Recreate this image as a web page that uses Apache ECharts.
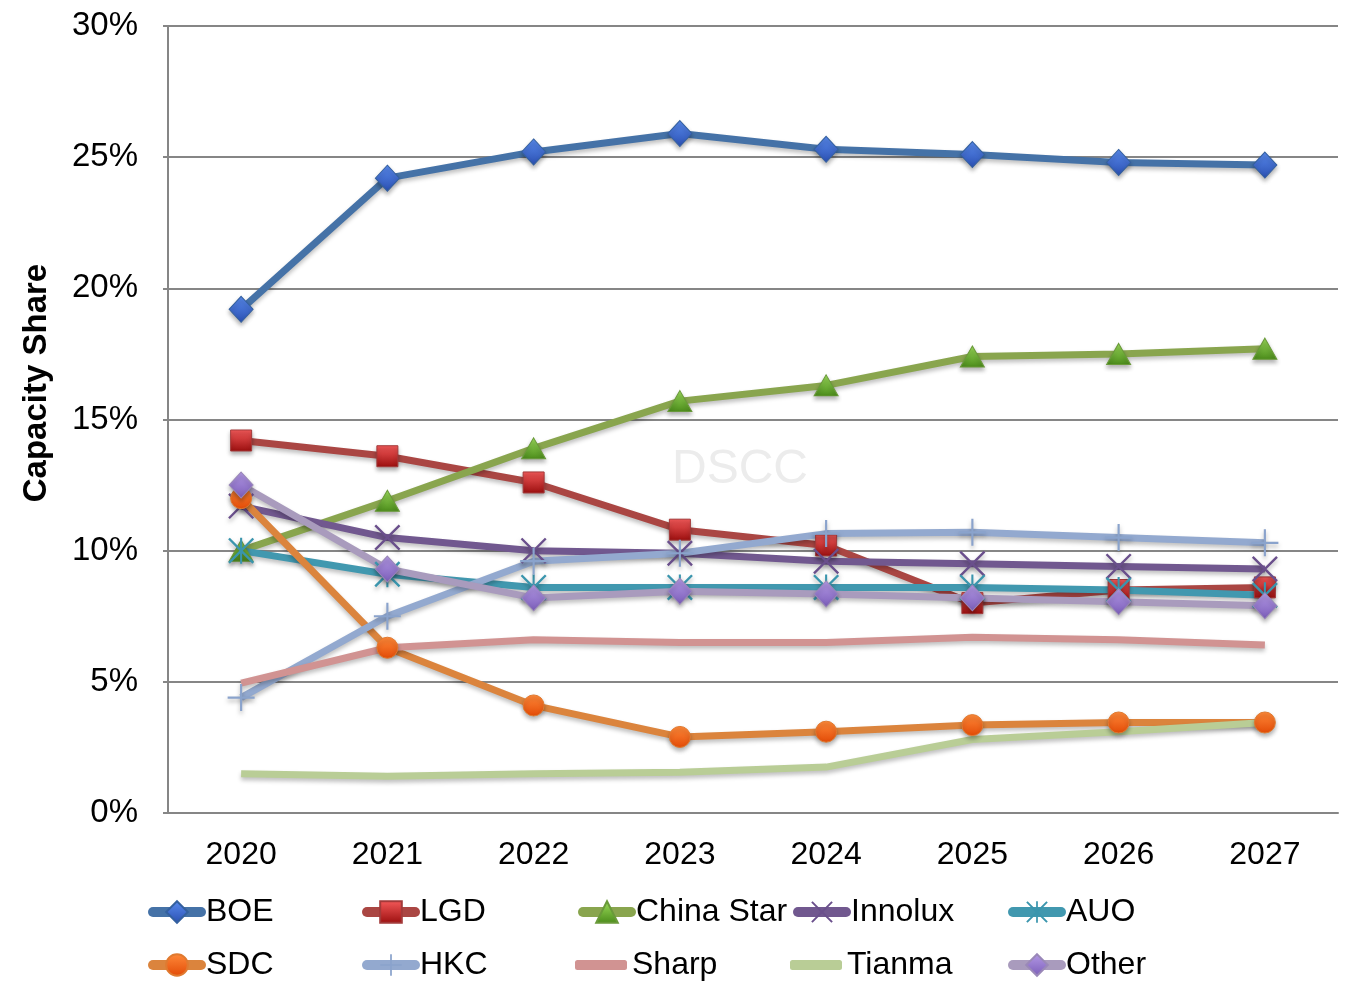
<!DOCTYPE html>
<html>
<head>
<meta charset="utf-8">
<script src="https://cdn.jsdelivr.net/npm/echarts@6/dist/echarts.min.js"></script>
<style>
html,body{margin:0;padding:0;background:#fff;}
#chart{width:1357px;height:993px;}
</style>
</head>
<body>
<div id="chart"></div>
<script>
var categories = ['2020','2021','2022','2023','2024','2025','2026','2027'];
var boe       = [19.2, 24.2, 25.2, 25.9, 25.3, 25.1, 24.8, 24.7];
var lgd       = [14.2, 13.6, 12.6, 10.8, 10.2, 8.0, 8.5, 8.6];
var chinaStar = [10.0, 11.9, 13.9, 15.7, 16.3, 17.4, 17.5, 17.7];
var innolux   = [11.7, 10.5, 10.0, 9.9, 9.6, 9.5, 9.4, 9.3];
var auo       = [10.0, 9.1, 8.6, 8.6, 8.6, 8.6, 8.5, 8.3];
var sdc       = [12.0, 6.3, 4.1, 2.9, 3.1, 3.35, 3.45, 3.45];
var hkc       = [4.4, 7.5, 9.6, 9.9, 10.65, 10.7, 10.5, 10.3];
var sharp     = [4.95, 6.3, 6.6, 6.5, 6.5, 6.7, 6.6, 6.4];
var tianma    = [1.5, 1.4, 1.5, 1.55, 1.75, 2.8, 3.1, 3.45];
var other     = [12.5, 9.3, 8.2, 8.45, 8.35, 8.2, 8.05, 7.9];
var yTickFormat = '{value}%';

var FONT = "'Liberation Sans', Arial, sans-serif";

function grad(c1, c2) {
  return {type:'linear', x:0, y:0, x2:0, y2:1, colorStops:[{offset:0,color:c1},{offset:1,color:c2}]};
}
var X_PATH = 'path://M0,1.3 L1.3,0 L20,18.7 L18.7,20 Z M18.7,0 L20,1.3 L1.3,20 L0,18.7 Z';
var AST_PATH = 'path://M0,1.3 L1.3,0 L20,18.7 L18.7,20 Z M18.7,0 L20,1.3 L1.3,20 L0,18.7 Z M9.2,0 L10.8,0 L10.8,20 L9.2,20 Z';
var PLUS_PATH = 'path://M9.2,0 L10.8,0 L10.8,9.2 L20,9.2 L20,10.8 L10.8,10.8 L10.8,20 L9.2,20 L9.2,10.8 L0,10.8 L0,9.2 L9.2,9.2 Z';

var shadowLine = {shadowColor:'rgba(0,0,0,0.25)', shadowBlur:4, shadowOffsetY:3};

function mk(name, data, lineColor, symbol, size, itemColor, border) {
  return {
    name: name, type: 'line', data: data,
    symbol: symbol, symbolSize: size, showAllSymbol: true,
    lineStyle: Object.assign({color: lineColor, width: 7}, shadowLine),
    itemStyle: {color: itemColor, borderColor: border || itemColor, borderWidth: border ? 1 : 0,
      shadowColor:'rgba(0,0,0,0.3)', shadowBlur:4, shadowOffsetY:3},
    emphasis: {disabled: true},
    z: 2
  };
}

var series = [
  mk('BOE', boe, '#4572A7', 'diamond', [24,26], grad('#5a8cf0','#2a4fb0'), '#34609f'),
  mk('LGD', lgd, '#AA4643', 'rect', 21, grad('#f55a5a','#9a0e0e'), '#a33a3a'),
  mk('China Star', chinaStar, '#89A54E', 'triangle', [24,21], grad('#9ee05c','#4a8a1a'), '#6a9a3a'),
  mk('Innolux', innolux, '#71588F', X_PATH, 26, '#6a4f8c'),
  mk('AUO', auo, '#4198AF', AST_PATH, 26, '#3a95ad'),
  mk('SDC', sdc, '#DB843D', 'circle', 21, grad('#ff8a3a','#e24a06'), '#e07a30'),
  mk('HKC', hkc, '#93A9CF', PLUS_PATH, 27, '#8aa3cc'),
  mk('Sharp', sharp, '#D19392', 'none', 1, '#D19392'),
  mk('Tianma', tianma, '#B9CD96', 'none', 1, '#B9CD96'),
  mk('Other', other, '#A99BBD', 'diamond', [24,26], grad('#b49ae6','#7a5cb8'), '#9a88b8')
];

var legendCols = [148, 362, 578, 793, 1008];
var legendRows = [896, 949];
var legends = series.map(function(s, i) {
  var row = Math.floor(i / 5), col = i % 5;
  var isPlain = (s.name === 'Sharp' || s.name === 'Tianma');
  var lg = {
    data: isPlain ? [{name: s.name, icon: 'roundRect'}] : [s.name],
    left: legendCols[col] - (isPlain ? 3 : 0), top: legendRows[row],
    itemWidth: isPlain ? 52 : 48, itemHeight: isPlain ? 10 : 27,
    itemGap: 0, padding: 0,
    selectedMode: false,
    lineStyle: {width: 10, cap: 'round'},
    textStyle: {fontFamily: FONT, fontSize: 32, color: '#000'}
  };
  return lg;
});

var chart = echarts.init(document.getElementById('chart'), null, {renderer: 'canvas'});
chart.setOption({
  backgroundColor: '#ffffff',
  animation: false,
  grid: {left: 168, right: 19, top: 26, bottom: 180, containLabel: false},
  legend: legends,
  xAxis: {
    type: 'category', data: categories, boundaryGap: true,
    axisLine: {show: true, lineStyle: {color: '#868686', width: 2}},
    axisTick: {show: false},
    axisLabel: {fontFamily: FONT, fontSize: 32, color: '#000', margin: 26}
  },
  yAxis: {
    type: 'value', min: 0, max: 30, interval: 5,
    axisLine: {show: true, lineStyle: {color: '#868686', width: 2}},
    axisTick: {show: true, length: 5, lineStyle: {color: '#868686', width: 2}},
    splitLine: {show: true, lineStyle: {color: '#868686', width: 2}},
    axisLabel: {fontFamily: FONT, fontSize: 33, color: '#000', margin: 30, formatter: yTickFormat}
  },
  graphic: [
    {type: 'text', left: 672, top: 446, z: 0, silent: true,
     style: {text: 'DSCC', fontFamily: FONT, fontSize: 48, fontWeight: 'normal', fill: '#ececec'}},
    {type: 'text', x: 37, y: 383, rotation: Math.PI / 2, silent: true,
     style: {text: 'Capacity Share', fontFamily: FONT, fontSize: 33, fontWeight: 'bold', fill: '#000', align: 'center', verticalAlign: 'middle'}}
  ],
  series: series
});
</script>
</body>
</html>
